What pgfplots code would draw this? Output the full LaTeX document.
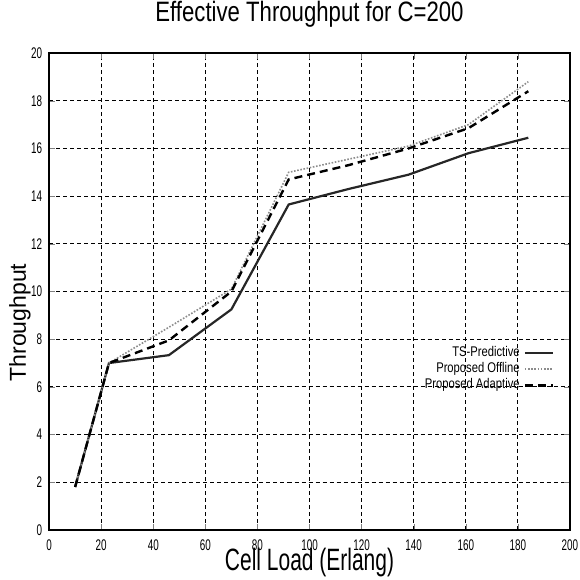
\documentclass[border=0pt]{standalone}
\usepackage{pgfplots}
\pgfplotsset{compat=1.18}
\usepackage{fontspec}
\setmainfont{Liberation Sans}
\newfontfamily\titlefont{Liberation Sans}[FakeStretch=0.79]
\newfontfamily\xlabfont{Liberation Sans}[FakeStretch=0.68]
\newfontfamily\tickfont{Liberation Sans}[FakeStretch=0.64]
\newfontfamily\legfont{Liberation Sans}[FakeStretch=0.8]
\begin{document}
\begin{tikzpicture}
\useasboundingbox (-24.5pt,-25pt) rectangle (265pt,264.5pt);
\begin{axis}[
  scale only axis, width=260pt, height=238pt,
  at={(0,0)}, anchor=south west,
  xmin=0, xmax=200, ymin=0, ymax=20,
  xtick={0,20,...,200}, ytick={0,2,...,20},
  tick align=inside, major tick length=3pt,
  axis line style={line width=0.9pt},
  grid=major,
  major grid style={black, line width=0.45pt, dash pattern=on 2pt off 1.5pt},
  /pgf/number format/assume math mode=true,
  tick label style={font=\tickfont\fontsize{7.7}{8}\selectfont},
  xticklabel style={yshift=-1.5pt},
  title={Effective Throughput for C=200},
  title style={at={(axis description cs:0.5,1)}, anchor=base, yshift=10pt,
    font=\titlefont\fontsize{14}{15}\selectfont},
  xlabel={Cell Load (Erlang)},
  ylabel={Throughput},
  xlabel style={at={(axis description cs:0.5,0)}, anchor=base, yshift=-20.5pt,
    font=\xlabfont\fontsize{15.4}{16}\selectfont},
  ylabel style={at={(axis description cs:-0.056,0.435)}, anchor=center,
    font=\fontsize{11.5}{12}\selectfont},
  legend style={at={(0.975,0.337)}, anchor=east, draw=none, fill=none,
    font=\legfont\fontsize{7}{7.5}\selectfont, row sep=-2.5pt, inner sep=1pt},
  legend cell align=right,
  legend plot pos=right,
  legend image code/.code={\draw[#1] (0cm,0cm) -- (0.5cm,0cm);},
]
\addplot[black!85, line width=1.1pt] coordinates {
  (10,1.8) (23,7.0) (46,7.33) (70,9.25) (92,13.65) (115,14.3) (138,14.9) (161,15.8) (184,16.45)};
\addlegendentry{TS-Predictive}
\addplot[black!45, line width=0.8pt, dash pattern=on 0.8pt off 0.8pt] coordinates {
  (10,1.8) (23,7.0) (46,8.5) (70,10.1) (92,15.0) (115,15.55) (138,16.1) (161,17.0) (184,18.8)};
\addlegendentry{Proposed Offline}
\addplot[black, line width=1.2pt, dash pattern=on 4pt off 2.5pt] coordinates {
  (10,1.8) (23,7.0) (46,7.95) (70,10.0) (92,14.7) (115,15.3) (138,16.0) (161,16.85) (184,18.4)};
\addlegendentry{Proposed Adaptive}
\end{axis}
\end{tikzpicture}
\end{document}
